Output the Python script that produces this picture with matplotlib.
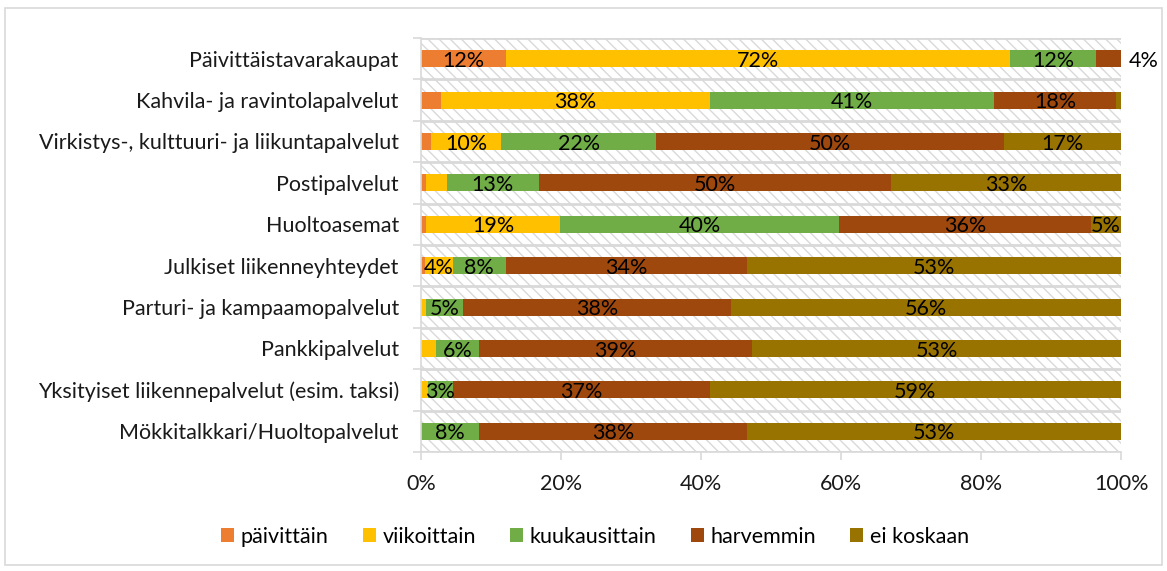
import matplotlib.pyplot as plt
import numpy as np
from matplotlib.patches import Rectangle

plt.rcParams['font.family'] = ['Lato', 'DejaVu Sans']
plt.rcParams['hatch.linewidth'] = 1.0

categories = [
    'Päivittäistavarakaupat',
    'Kahvila- ja ravintolapalvelut',
    'Virkistys-, kulttuuri- ja liikuntapalvelut',
    'Postipalvelut',
    'Huoltoasemat',
    'Julkiset liikenneyhteydet',
    'Parturi- ja kampaamopalvelut',
    'Pankkipalvelut',
    'Yksityiset liikennepalvelut (esim. taksi)',
    'Mökkitalkkari/Huoltopalvelut',
]
series = ['päivittäin', 'viikoittain', 'kuukausittain', 'harvemmin', 'ei koskaan']

paivittain = [12.1, 2.9, 1.4, 0.7, 0.7, 0.6, 0.0, 0.0, 0.0, 0.0]
viikoittain = [72.0, 38.3, 10.0, 3.0, 19.2, 3.9, 0.7, 2.2, 1.0, 0.0]
kuukausittain = [12.3, 40.6, 22.2, 13.1, 39.8, 7.6, 5.3, 6.1, 3.5, 8.3]
harvemmin = [3.6, 17.5, 49.6, 50.3, 36.0, 34.5, 38.3, 39.0, 36.7, 38.3]
ei_koskaan = [0.0, 0.7, 16.8, 32.9, 4.3, 53.4, 55.7, 52.7, 58.8, 53.4]

# data labels as shown ('' = no label)
lab_paivittain = ['12%', '', '', '', '', '', '', '', '', '']
lab_viikoittain = ['72%', '38%', '10%', '', '19%', '4%', '', '', '', '']
lab_kuukausittain = ['12%', '41%', '22%', '13%', '40%', '8%', '5%', '6%', '3%', '8%']
lab_harvemmin = ['4%', '18%', '50%', '50%', '36%', '34%', '38%', '39%', '37%', '38%']
lab_ei_koskaan = ['', '', '17%', '33%', '5%', '53%', '56%', '53%', '59%', '53%']

colors = ['#ED7D31', '#FFC000', '#70AD47', '#9E480E', '#997300']
values = [paivittain, viikoittain, kuukausittain, harvemmin, ei_koskaan]
labels = [lab_paivittain, lab_viikoittain, lab_kuukausittain, lab_harvemmin, lab_ei_koskaan]

fs = 15.5

fig = plt.figure(figsize=(11.67, 5.71), dpi=100)
ax = fig.add_axes([0.3608, 0.2084, 0.6, 0.7251])

grid_col = '#D9D9D9'
y = np.arange(len(categories))

# hatched plot area background
bg = Rectangle((0, 0), 1, 1, transform=ax.transAxes, facecolor='white',
               edgecolor=grid_col, hatch='\\\\\\', linewidth=0, zorder=0)
ax.add_patch(bg)

for b in np.arange(-0.5, len(categories) + 0.5, 1.0):
    ax.axhline(b, color=grid_col, lw=2, zorder=1)

left = np.zeros(len(categories))
for name, vals, labs, col in zip(series, values, labels, colors):
    vals = np.array(vals)
    ax.barh(y, vals, left=left, height=0.41, color=col, label=name, zorder=2)
    for i, (v, l, t) in enumerate(zip(vals, left, labs)):
        if not t:
            continue
        if name == 'harvemmin' and i == 0:
            # placed outside the bar end
            ax.text(l + v + 1.0, i + 0.05, t, ha='left', va='center', fontsize=fs,
                    color='black', zorder=3)
        else:
            ax.text(l + v / 2, i + 0.05, t, ha='center', va='center', fontsize=fs,
                    color='black', zorder=3)
    left += vals

ax.set_xlim(0, 100)
ax.set_ylim(len(categories) - 0.5, -0.5)
ax.set_xticks(np.arange(0, 101, 20))
ax.set_xticklabels([f'{v}%' for v in range(0, 101, 20)])
ax.set_yticks(y)
ax.set_yticklabels(categories)
ax.set_yticks(np.arange(-0.5, len(categories) + 0.5, 1.0), minor=True)

for s in ['top', 'right']:
    ax.spines[s].set_visible(False)
ax.spines['left'].set_color(grid_col)
ax.spines['bottom'].set_color(grid_col)
ax.spines['left'].set_linewidth(1.2)
ax.spines['bottom'].set_linewidth(1.2)

ax.tick_params(axis='y', which='major', length=0, pad=16, labelsize=fs, labelcolor='#1a1a1a')
ax.tick_params(axis='y', which='minor', length=6, color=grid_col, width=1.2)
ax.tick_params(axis='x', which='major', length=6, color=grid_col, width=1.2,
               pad=10, labelsize=fs, labelcolor='#1a1a1a')

fig.legend(loc='center', bbox_to_anchor=(0.51, 0.06), ncol=5, frameon=False,
           fontsize=fs, handlelength=0.6, handleheight=0.6, handletextpad=0.3,
           columnspacing=1.6)

border = Rectangle((5 / 1167, 6 / 571), 1157 / 1167, 557 / 571, transform=fig.transFigure,
                   facecolor='none', edgecolor=grid_col, linewidth=1.2)
fig.patches.append(border)

fig.savefig('out.png', dpi=100)
